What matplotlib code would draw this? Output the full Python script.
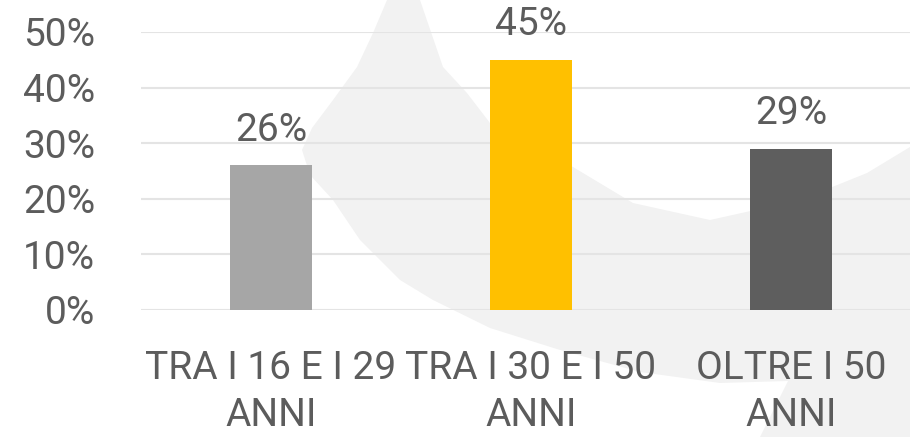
import matplotlib
matplotlib.use("Agg")
import matplotlib.pyplot as plt
from matplotlib.patches import Polygon
from matplotlib.ticker import PercentFormatter

categories = ["TRA I 16 E I 29\nANNI", "TRA I 30 E I 50\nANNI", "OLTRE I 50\nANNI"]
values = [0.26, 0.45, 0.29]
value_labels = ["26%", "45%", "29%"]
bar_colors = ["#a6a6a6", "#ffc000", "#5e5e5e"]
yticks = [0, 0.1, 0.2, 0.3, 0.4, 0.5]

text_color = "#5c5c5c"
plt.rcParams["font.family"] = ["Roboto", "DejaVu Sans"]

W, H = 910, 437
fig = plt.figure(figsize=(W / 100, H / 100), dpi=100)

# faint background swoosh (decoration, pixel outline from top-left)
swoosh = [(387, 0), (373, 33), (357, 67), (333, 100), (312, 128), (302, 150),
          (310, 175), (333, 200), (360, 240), (400, 280), (433, 300),
          (490, 328), (560, 350), (640, 372), (720, 383), (788, 381),
          (760, 437), (910, 437), (910, 147), (867, 173), (800, 200),
          (710, 220), (633, 203), (573, 167), (530, 145), (490, 123),
          (467, 93), (443, 67), (420, 0)]
pts = [(x / W, 1 - y / H) for x, y in swoosh]
fig.patches.append(Polygon(pts, closed=True, transform=fig.transFigure,
                           facecolor="#f2f2f2", edgecolor="none", zorder=-5))

ax = fig.add_axes([141 / W, 127 / H, 780 / W, 278 / H])
ax.set_facecolor("none")
ax.set_zorder(2)

x = range(len(categories))
bars = ax.bar(x, values, width=0.315, color=bar_colors, zorder=3)
for b, lab in zip(bars, value_labels):
    ax.annotate(lab, (b.get_x() + b.get_width() / 2, b.get_height()),
                xytext=(0, 12), textcoords="offset points", ha="center",
                va="bottom", fontsize=28, color=text_color, clip_on=False)

ax.set_xlim(-0.5, 2.5)
ax.set_ylim(0, 0.5)
ax.set_yticks(yticks)
ax.yaxis.set_major_formatter(PercentFormatter(1.0, decimals=0))
ax.set_xticks(list(x))
ax.set_xticklabels(categories, fontsize=28, color=text_color, linespacing=1.32)
ax.tick_params(axis="y", length=0, pad=33, labelsize=28, labelcolor=text_color)
ax.tick_params(axis="x", length=0, pad=29)
ax.grid(axis="y", color="#e4e4e4", linewidth=1.5, zorder=1)
for s in ax.spines.values():
    s.set_visible(False)

fig.savefig("out.png", dpi=100)
